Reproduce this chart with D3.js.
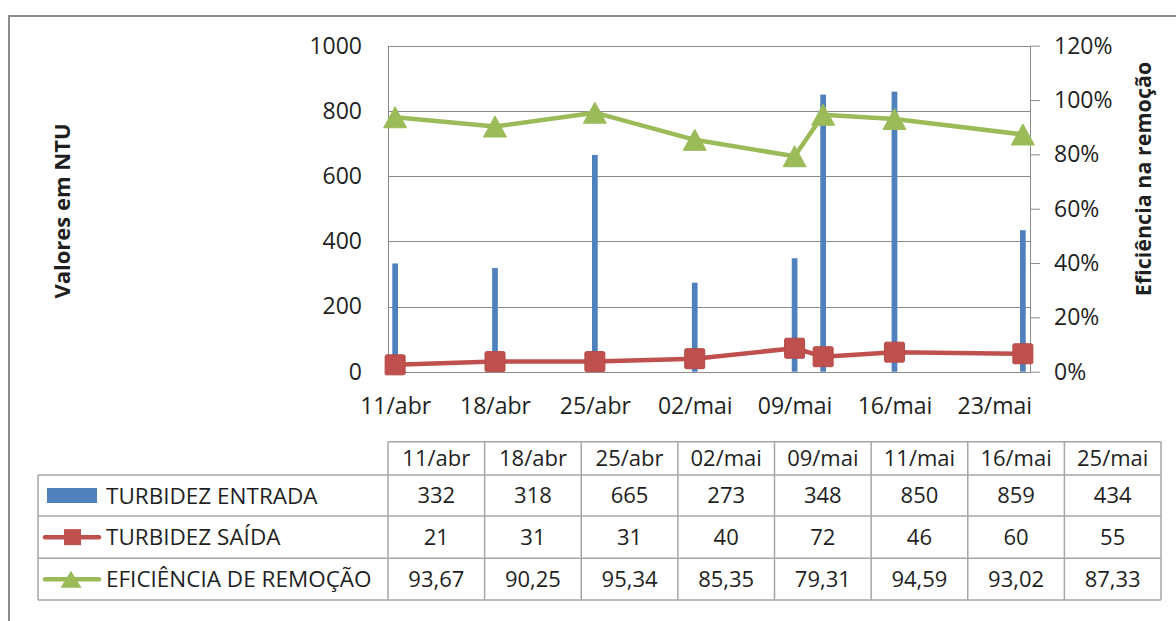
<!DOCTYPE html>
<html>
<head>
<meta charset="utf-8">
<script src="https://cdn.jsdelivr.net/npm/d3@7"></script>
<style>
  body { margin: 0; background: #fff; }
  svg { display: block; }
  text { font-family: "Open Sans", sans-serif; fill: #1f1f1f; }
</style>
</head>
<body>
<svg id="chart" width="1176" height="621"></svg>
<script>
// Sampling dates and measurements
const sampleDates = ["2011-04-11", "2011-04-18", "2011-04-25", "2011-05-02",
                     "2011-05-09", "2011-05-11", "2011-05-16", "2011-05-25"];
const turbidezEntrada = [332, 318, 665, 273, 348, 850, 859, 434];
const turbidezSaida = [21, 31, 31, 40, 72, 46, 60, 55];
const eficienciaRemocao = [93.67, 90.25, 95.34, 85.35, 79.31, 94.59, 93.02, 87.33];
const seriesNames = ["TURBIDEZ ENTRADA", "TURBIDEZ SAÍDA", "EFICIÊNCIA DE REMOÇÃO"];
const ntuTicks = [0, 200, 400, 600, 800, 1000];
const pctTicks = [0, 0.2, 0.4, 0.6, 0.8, 1.0, 1.2];
const axisTitleLeft = "Valores em NTU";
const axisTitleRight = "Eficiência na remoção";

const COLORS = { entrada: "#4F81BD", saida: "#C0504D", eficiencia: "#9BBB59", grid: "#8a8a8a", table: "#a6a6a6" };

const ptTime = d3.timeFormatLocale({
  dateTime: "%A, %e de %B de %Y. %X", date: "%d/%m/%Y", time: "%H:%M:%S",
  periods: ["AM", "PM"],
  days: ["domingo", "segunda", "terça", "quarta", "quinta", "sexta", "sábado"],
  shortDays: ["dom", "seg", "ter", "qua", "qui", "sex", "sáb"],
  months: ["janeiro", "fevereiro", "março", "abril", "maio", "junho", "julho", "agosto", "setembro", "outubro", "novembro", "dezembro"],
  shortMonths: ["jan", "fev", "mar", "abr", "mai", "jun", "jul", "ago", "set", "out", "nov", "dez"]
});
const ptNum = d3.formatLocale({ decimal: ",", thousands: ".", grouping: [3], currency: ["R$", ""] });
const fmtDate = ptTime.utcFormat("%d/%b");
const fmtDec = ptNum.format(".2f");
const fmtInt = ptNum.format("d");

const dates = sampleDates.map(s => d3.utcParse("%Y-%m-%d")(s));
const rows = dates.map((d, i) => ({
  date: d, entrada: turbidezEntrada[i], saida: turbidezSaida[i], ef: eficienciaRemocao[i] / 100
}));

const svg = d3.select("#chart");
svg.append("rect").attr("width", 1176).attr("height", 621).attr("fill", "#fff");

// Chart frame
svg.append("rect")
  .attr("x", 9).attr("y", 16).attr("width", 1200).attr("height", 640)
  .attr("fill", "none").attr("stroke", "#8c8c8c").attr("stroke-width", 2);

const plot = { left: 388, right: 1030, top: 45.7, bottom: 371.7 };

// Date axis: each day is a slot, points sit in the middle of their day
const x = d3.scaleUtc()
  .domain([d3.utcHour.offset(dates[0], -12), d3.utcHour.offset(dates[dates.length - 1], 12)])
  .range([plot.left, plot.right]);
const yL = d3.scaleLinear().domain([0, 1000]).range([plot.bottom, plot.top]);
const yR = d3.scaleLinear().domain([0, 1.2]).range([plot.bottom, plot.top]);

const weekTicks = d3.utcDay.range(dates[0], d3.utcDay.offset(dates[dates.length - 1], 1))
  .filter((d, i) => i % 7 === 0);

// Horizontal gridlines
svg.append("g").selectAll("line").data(ntuTicks).join("line")
  .attr("x1", plot.left).attr("x2", plot.right)
  .attr("y1", d => Math.round(yL(d)) + 0.5).attr("y2", d => Math.round(yL(d)) + 0.5)
  .attr("stroke", COLORS.grid).attr("stroke-width", 1);

// Left axis
const gL = svg.append("g").attr("transform", `translate(${plot.left},0)`)
  .call(d3.axisLeft(yL).tickValues(ntuTicks).tickSize(0).tickSizeOuter(0).tickPadding(26)
    .tickFormat(d3.format("d")));
gL.select(".domain").attr("stroke", COLORS.grid);
gL.selectAll("text").attr("font-size", 23).style("font-family", "Open Sans").attr("fill", "#1f1f1f");

// Right axis
const gR = svg.append("g").attr("transform", `translate(${plot.right},0)`)
  .call(d3.axisRight(yR).tickValues(pctTicks).tickSize(10).tickSizeOuter(0).tickPadding(14)
    .tickFormat(d3.format(".0%")));
gR.select(".domain").attr("stroke", COLORS.grid);
gR.selectAll("line").attr("stroke", COLORS.grid);
gR.selectAll("text").attr("font-size", 23).style("font-family", "Open Sans").attr("fill", "#1f1f1f");

// Bottom date labels
const gX = svg.append("g").attr("transform", `translate(0,${plot.bottom})`)
  .call(d3.axisBottom(x).tickValues(weekTicks).tickSize(0).tickPadding(26).tickFormat(fmtDate));
gX.select(".domain").remove();
gX.selectAll("text").attr("font-size", 23).style("font-family", "Open Sans").attr("fill", "#1f1f1f");

// Bars: a day slot with 150% gap
const dayW = x(d3.utcDay.offset(dates[0], 1)) - x(dates[0]);
const barW = dayW / 2.5;
svg.append("g").selectAll("rect").data(rows).join("rect")
  .attr("x", d => x(d.date) - barW / 2).attr("width", barW)
  .attr("y", d => yL(d.entrada)).attr("height", d => yL(0) - yL(d.entrada))
  .attr("fill", COLORS.entrada);

// Outlet turbidity line + square markers
svg.append("path").datum(rows)
  .attr("fill", "none").attr("stroke", COLORS.saida).attr("stroke-width", 4.5)
  .attr("stroke-linejoin", "round")
  .attr("d", d3.line().x(d => x(d.date)).y(d => yL(d.saida)));
const SQ = 20;
svg.append("g").selectAll("rect").data(rows).join("rect")
  .attr("x", d => x(d.date) - SQ / 2).attr("y", d => yL(d.saida) - SQ / 2)
  .attr("width", SQ).attr("height", SQ).attr("rx", 1.5)
  .attr("fill", COLORS.saida).attr("stroke", "#b44a47").attr("stroke-width", 1);

// Removal efficiency line + triangle markers
svg.append("path").datum(rows)
  .attr("fill", "none").attr("stroke", COLORS.eficiencia).attr("stroke-width", 4.5)
  .attr("stroke-linejoin", "round")
  .attr("d", d3.line().x(d => x(d.date)).y(d => yR(d.ef)));
const triPath = (w, h) => `M0,${-h / 2}L${w / 2},${h / 2}L${-w / 2},${h / 2}Z`;
svg.append("g").selectAll("path").data(rows).join("path")
  .attr("transform", d => `translate(${x(d.date)},${yR(d.ef)})`)
  .attr("d", triPath(23, 21))
  .attr("fill", COLORS.eficiencia).attr("stroke", COLORS.eficiencia).attr("stroke-width", 1)
  .attr("stroke-linejoin", "round");

// Axis titles
svg.append("text")
  .attr("transform", "translate(69.5,211) rotate(-90)")
  .attr("text-anchor", "middle").attr("font-size", 22).attr("font-weight", 700)
  .attr("fill", "#000").text(axisTitleLeft);
svg.append("text")
  .attr("transform", "translate(1150.5,179) rotate(-90)")
  .attr("text-anchor", "middle").attr("font-size", 21.5).attr("font-weight", 700)
  .attr("fill", "#000").text(axisTitleRight);

// Data table
const table = { left: 38, colStart: 388, right: 1161, top: 441.7, headBottom: 475, rowH: [41, 42.3, 41.7] };
const col = d3.scaleBand().domain(d3.range(rows.length)).range([table.colStart, table.right]);
const rowTops = [table.headBottom];
table.rowH.forEach((h, i) => rowTops.push(rowTops[i] + h));
const gT = svg.append("g");
const line = (x1, y1, x2, y2) => gT.append("line")
  .attr("x1", x1).attr("y1", y1).attr("x2", x2).attr("y2", y2)
  .attr("stroke", COLORS.table).attr("stroke-width", 1.5);

// header row borders (data columns only)
line(table.colStart, table.top, table.right, table.top);
// body horizontal lines
rowTops.forEach(y => line(table.left, y, table.right, y));
// vertical lines
line(table.left, table.headBottom, table.left, rowTops[3]);
d3.range(rows.length + 1).forEach(i => {
  const xx = i < rows.length ? col(i) : table.right;
  line(xx, table.top, xx, rowTops[3]);
});

const cellText = (xc, yc, txt) => gT.append("text")
  .attr("x", xc).attr("y", yc).attr("dy", "0.36em")
  .attr("text-anchor", "middle").attr("font-size", 22).text(txt);

const headMid = (table.top + table.headBottom) / 2;
rows.forEach((r, i) => {
  const xc = col(i) + col.bandwidth() / 2;
  cellText(xc, headMid, fmtDate(r.date));
  cellText(xc, (rowTops[0] + rowTops[1]) / 2, fmtInt(r.entrada));
  cellText(xc, (rowTops[1] + rowTops[2]) / 2, fmtInt(r.saida));
  cellText(xc, (rowTops[2] + rowTops[3]) / 2, fmtDec(r.ef * 100));
});

// Legend keys inside the table
const mids = [0, 1, 2].map(i => (rowTops[i] + rowTops[i + 1]) / 2);
gT.append("rect").attr("x", 47).attr("y", mids[0] - 7.5).attr("width", 50).attr("height", 15)
  .attr("fill", COLORS.entrada);
gT.append("line").attr("x1", 45).attr("x2", 99).attr("y1", mids[1]).attr("y2", mids[1])
  .attr("stroke", COLORS.saida).attr("stroke-width", 4.5).attr("stroke-linecap", "round");
gT.append("rect").attr("x", 64).attr("y", mids[1] - 8).attr("width", 17).attr("height", 16)
  .attr("fill", COLORS.saida);
gT.append("line").attr("x1", 45).attr("x2", 99).attr("y1", mids[2]).attr("y2", mids[2])
  .attr("stroke", COLORS.eficiencia).attr("stroke-width", 4.5).attr("stroke-linecap", "round");
gT.append("path").attr("transform", `translate(71,${mids[2]})`).attr("d", triPath(21, 17))
  .attr("fill", COLORS.eficiencia);

seriesNames.forEach((name, i) => {
  gT.append("text").attr("x", 106).attr("y", mids[i]).attr("dy", "0.36em")
    .attr("font-size", 22.5).text(name);
});
</script>
</body>
</html>
